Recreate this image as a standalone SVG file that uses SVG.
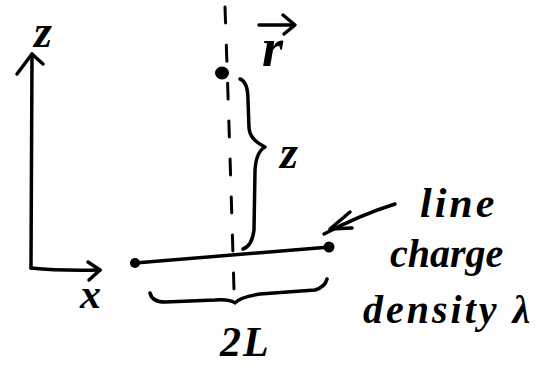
<svg xmlns="http://www.w3.org/2000/svg" width="553" height="367" viewBox="0 0 553 367">
<style>
.s{fill:none;stroke:#000;stroke-width:3.5;stroke-linecap:round;stroke-linejoin:round}
.d{fill:none;stroke:#000;stroke-width:3;stroke-linecap:round;stroke-dasharray:16 22}
.t{font-family:"Liberation Serif",serif;font-style:italic;font-weight:bold;fill:#000}
.dot{fill:#000}
</style>
<rect width="553" height="367" fill="#fff"/>
<g id="axes">
<path class="s" d="M31,268 L32,54"/>
<path class="s" d="M17,74 L32,54 L43,64"/>
<path class="s" d="M31,268 Q60,271 100,270"/>
<path class="s" d="M88,262 L100,270 L89,280"/>
<text class="t" x="34" y="47" font-size="46">z</text>
<text class="t" x="80" y="308" font-size="42">x</text>
</g>
<g id="axis-line">
<path class="d" d="M225,7 Q230,150 234,290"/>
</g>
<g id="point-r">
<ellipse class="dot" cx="222" cy="73" rx="7" ry="6.5"/>
<text class="t" x="262" y="66" font-size="54">r</text>
<path class="s" d="M259,25 L293,25"/>
<path class="s" d="M283,15 L295,25 L284,34"/>
</g>
<g id="brace-z">
<path class="s" d="M240,79 Q248,82 248,100 L249,128 Q250,140 265,147 Q256,152 255,170 L254,230 Q252,246 243,249"/>
<text class="t" x="280" y="168" font-size="46">z</text>
</g>
<g id="line-charge">
<path class="s" d="M135,263 L330,247"/>
<circle class="dot" cx="135" cy="263" r="5"/>
<circle class="dot" cx="329" cy="247" r="5.5"/>
</g>
<g id="brace-2L">
<path class="s" d="M150,293 Q152,302 165,302 L215,300 Q230,299 235,303 Q240,297 260,294 L315,290 Q325,287 327,279"/>
<text class="t" x="220" y="356" font-size="42" letter-spacing="2">2L</text>
</g>
<g id="label">
<path class="s" d="M395,204 Q360,215 324,234"/>
<path class="s" d="M350,212 L330,229 L352,228"/>
<text class="t" x="420" y="217" font-size="42" letter-spacing="3">line</text>
<text class="t" x="390" y="267" font-size="40">charge</text>
<text class="t" x="363" y="323" font-size="40" letter-spacing="3">density λ</text>
</g>
</svg>
